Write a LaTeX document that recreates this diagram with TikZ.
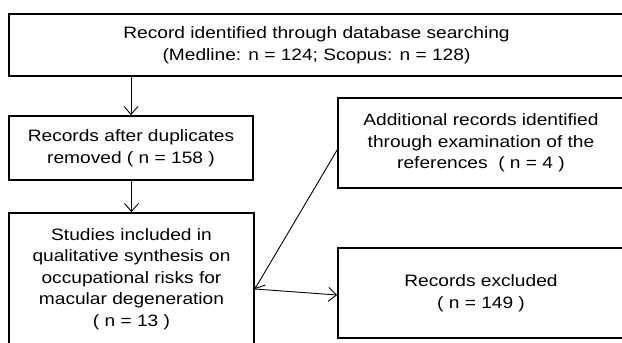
\documentclass[tikz,border=0pt]{standalone}
\usepackage{fontspec}
\setmainfont{Liberation Sans}[FakeStretch=1.16]
\usetikzlibrary{arrows.meta}
\begin{document}
\begin{tikzpicture}[x=1pt,y=-1pt,
  box/.style={draw=black,line width=1.7pt,align=center,inner sep=0pt,
    font=\fontsize{16.5}{21.5}\selectfont},
  arr/.style={line width=0.9pt,-{Straight Barb[length=8pt,width=14pt]}}]
\useasboundingbox (0,0) rectangle (622,343);
\clip (0,0) rectangle (622,343);
\node (b1) at (316.5,45) [box,minimum width=615,minimum height=62] {Record identified through database searching\\(Medline: n = 124; Scopus: n = 128)};
\node (b2) at (131,148) [box,minimum width=244,minimum height=64] {Records after duplicates\\removed ( n = 158 )};
\node (b3) at (131.5,279) [box,minimum width=245,minimum height=132] {Studies included in\\qualitative synthesis on\\occupational risks for\\macular degeneration\\( n = 13 )};
\node (b4) at (481,143) [box,minimum width=286,minimum height=90] {Additional records identified\\through examination of the\\references \ ( n = 4 )};
\node (b5) at (481,293) [box,minimum width=286,minimum height=90] {Records excluded\\( n = 149 )};
\coordinate (m) at ([yshift=-10pt]b3.east);
\draw[arr] (b1.south -| b2.north) -- (b2.north);
\draw[arr] (b2.south -| b3.north) -- (b3.north);
\draw[arr] ([yshift=-7pt]b4.west) -- (m);
\draw[arr] (m) -- ([yshift=-2pt]b5.west);
\end{tikzpicture}
\end{document}
